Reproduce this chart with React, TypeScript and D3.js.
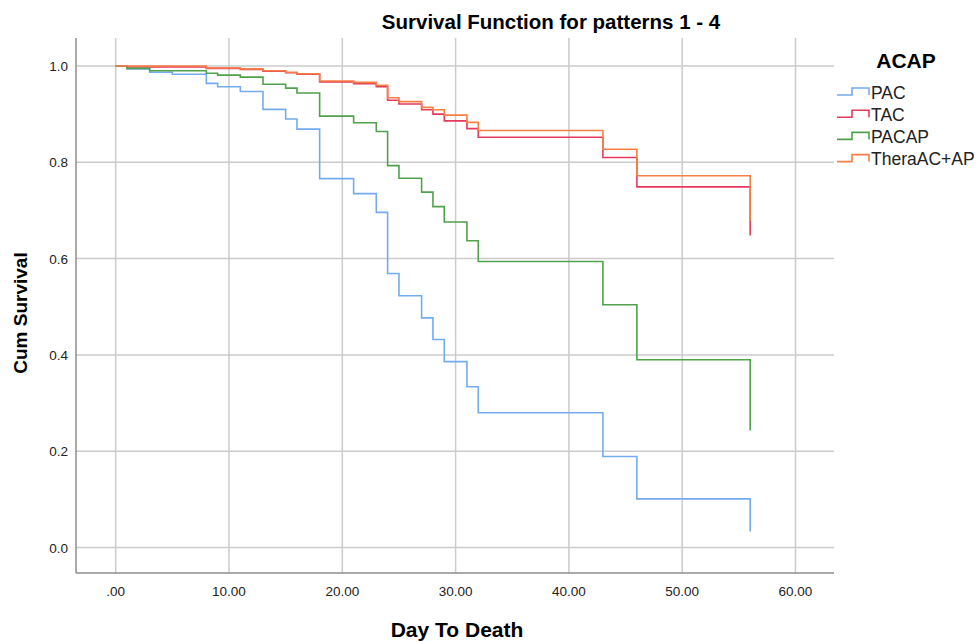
import React, { useEffect, useRef } from 'react';
import * as d3 from 'd3';

// Kaplan-Meier survival estimates (day, cum survival)
const pacDays = [0, 1, 3, 5, 8, 9, 11, 13, 15, 16, 18, 21, 23, 24, 25, 27, 28, 29, 31, 32, 43, 46, 56];
const pacSurv = [1.0, 0.994, 0.987, 0.983, 0.964, 0.957, 0.947, 0.91, 0.89, 0.869, 0.766, 0.735, 0.696, 0.569, 0.523, 0.477, 0.432, 0.386, 0.334, 0.28, 0.189, 0.101, 0.033];

const tacDays = [0, 1, 8, 11, 13, 15, 16, 18, 21, 23, 24, 25, 27, 28, 29, 31, 32, 43, 46, 56];
const tacSurv = [1.0, 0.998, 0.995, 0.993, 0.989, 0.986, 0.983, 0.967, 0.963, 0.957, 0.929, 0.921, 0.909, 0.9, 0.886, 0.87, 0.852, 0.81, 0.749, 0.648];

const pacapDays = [0, 1, 3, 8, 9, 11, 13, 15, 16, 18, 21, 23, 24, 25, 27, 28, 29, 31, 32, 43, 46, 56];
const pacapSurv = [1.0, 0.995, 0.99, 0.985, 0.981, 0.977, 0.962, 0.954, 0.944, 0.896, 0.882, 0.864, 0.793, 0.767, 0.738, 0.708, 0.676, 0.637, 0.594, 0.504, 0.39, 0.243];

const theraDays = [0, 8, 11, 13, 15, 16, 18, 21, 23, 24, 25, 27, 28, 29, 31, 32, 43, 46, 56];
const theraSurv = [1.0, 0.996, 0.994, 0.99, 0.987, 0.984, 0.969, 0.966, 0.96, 0.934, 0.926, 0.914, 0.909, 0.898, 0.883, 0.866, 0.827, 0.772, 0.678];

const groupNames = ['PAC', 'TAC', 'PACAP', 'TheraAC+AP'];
const groupColors = ['#74abef', '#e43a5d', '#50a14b', '#f67f45'];

const xTicks = [0, 10, 20, 30, 40, 50, 60];
const yTicks = [0, 0.2, 0.4, 0.6, 0.8, 1.0];

const App: React.FC = () => {
  const svgRef = useRef<SVGSVGElement>(null);
  const width = 977;
  const height = 641;

  useEffect(() => {
    if (!svgRef.current) return;
    const svg = d3.select(svgRef.current);
    svg.selectAll('*').remove();

    const font = 'Liberation Sans, Arial, Helvetica, sans-serif';
    const frame = { left: 76, right: 834, top: 38, bottom: 573 };

    const xScale = d3.scaleLinear().domain([0, 60]).range([115.7, 795.5]);
    const yScale = d3.scaleLinear().domain([0, 1]).range([547.5, 66]);

    // Gridlines
    svg.append('g')
      .selectAll('line')
      .data(xTicks)
      .enter()
      .append('line')
      .attr('x1', d => xScale(d))
      .attr('x2', d => xScale(d))
      .attr('y1', frame.top)
      .attr('y2', frame.bottom)
      .attr('stroke', '#cbcbcb')
      .attr('stroke-width', 1.5);

    svg.append('g')
      .selectAll('line')
      .data(yTicks)
      .enter()
      .append('line')
      .attr('x1', frame.left)
      .attr('x2', frame.right)
      .attr('y1', d => yScale(d))
      .attr('y2', d => yScale(d))
      .attr('stroke', '#cbcbcb')
      .attr('stroke-width', 1.5);

    // Axis lines
    svg.append('line')
      .attr('x1', frame.left).attr('x2', frame.left)
      .attr('y1', frame.top).attr('y2', frame.bottom)
      .attr('stroke', '#8c8c8c').attr('stroke-width', 1.5);
    svg.append('line')
      .attr('x1', frame.left).attr('x2', frame.right)
      .attr('y1', frame.bottom).attr('y2', frame.bottom)
      .attr('stroke', '#8c8c8c').attr('stroke-width', 1.5);

    // Tick labels
    svg.append('g')
      .selectAll('text')
      .data(xTicks)
      .enter()
      .append('text')
      .attr('x', d => xScale(d))
      .attr('y', 596)
      .attr('text-anchor', 'middle')
      .style('font-family', font)
      .style('font-size', '13.5px')
      .style('fill', '#222')
      .text(d => (d === 0 ? '.00' : d.toFixed(2)));

    svg.append('g')
      .selectAll('text')
      .data(yTicks)
      .enter()
      .append('text')
      .attr('x', 68)
      .attr('y', d => yScale(d) + 5)
      .attr('text-anchor', 'end')
      .style('font-family', font)
      .style('font-size', '13.5px')
      .style('fill', '#222')
      .text(d => d.toFixed(1));

    // Survival curves
    const series = [
      { days: pacDays, surv: pacSurv },
      { days: tacDays, surv: tacSurv },
      { days: pacapDays, surv: pacapSurv },
      { days: theraDays, surv: theraSurv },
    ];

    const line = d3
      .line<[number, number]>()
      .x(d => xScale(d[0]))
      .y(d => yScale(d[1]))
      .curve(d3.curveStepAfter);

    series.forEach((s, i) => {
      const pts = s.days.map((d, j) => [d, s.surv[j]] as [number, number]);
      svg.append('path')
        .datum(pts)
        .attr('d', line)
        .attr('fill', 'none')
        .attr('stroke', groupColors[i])
        .attr('stroke-width', 1.6);
    });

    // Titles
    svg.append('text')
      .attr('x', 551)
      .attr('y', 29)
      .attr('text-anchor', 'middle')
      .style('font-family', font)
      .style('font-size', '20.5px')
      .style('font-weight', 'bold')
      .text('Survival Function for patterns 1 - 4');

    svg.append('text')
      .attr('x', 457)
      .attr('y', 637)
      .attr('text-anchor', 'middle')
      .style('font-family', font)
      .style('font-size', '21px')
      .style('font-weight', 'bold')
      .text('Day To Death');

    svg.append('text')
      .attr('transform', 'translate(27,313) rotate(-90)')
      .attr('text-anchor', 'middle')
      .style('font-family', font)
      .style('font-size', '19px')
      .style('font-weight', 'bold')
      .text('Cum Survival');

    // Legend
    const legend = svg.append('g');
    legend.append('text')
      .attr('x', 906)
      .attr('y', 68)
      .attr('text-anchor', 'middle')
      .style('font-family', font)
      .style('font-size', '21px')
      .style('font-weight', 'bold')
      .text('ACAP');

    groupNames.forEach((name, i) => {
      const cy = 92 + i * 22.2;
      legend.append('path')
        .attr('d', `M837,${cy + 3}H852V${cy - 4}H869V${cy + 3}`)
        .attr('fill', 'none')
        .attr('stroke', groupColors[i])
        .attr('stroke-width', 1.6);
      legend.append('text')
        .attr('x', 871)
        .attr('y', cy + 6.5)
        .style('font-family', font)
        .style('font-size', '17.5px')
        .style('fill', '#222')
        .text(name);
    });
  }, []);

  return (
    <div style={{ position: 'absolute', left: 0, top: 0 }}>
      <svg ref={svgRef} width={width} height={height} style={{ display: 'block', background: '#fff' }} />
    </div>
  );
};

export default App;
